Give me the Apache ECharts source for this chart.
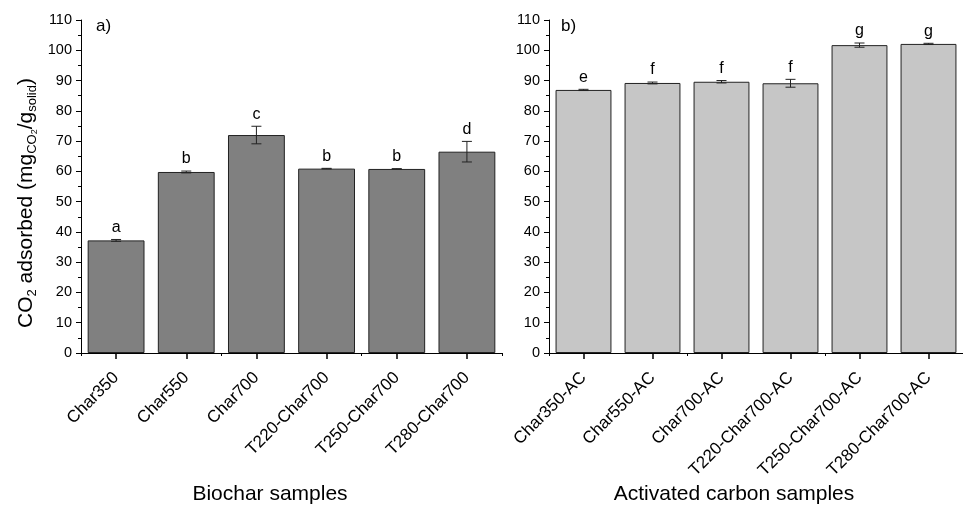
<!DOCTYPE html>
<html><head><meta charset="utf-8">
<script src="https://cdn.jsdelivr.net/npm/echarts@6/dist/echarts.min.js"></script>
<style>html,body{margin:0;padding:0;background:#fff}#c{width:963px;height:506px}</style>
</head><body><div id="c"></div>
<script>
const catsA = ['Char350','Char550','Char700','T220-Char700','T250-Char700','T280-Char700'];
const valsA = [37.2, 59.8, 72.0, 60.9, 60.8, 66.5];
const errA = [0.3, 0.3, 2.9, 0.1, 0.1, 3.4];
const lettersA = ['a','b','c','b','b','d'];
const catsB = ['Char350-AC','Char550-AC','Char700-AC','T220-Char700-AC','T250-Char700-AC','T280-Char700-AC'];
const valsB = [86.9, 89.2, 89.6, 89.1, 101.7, 102.1];
const errB = [0.2, 0.3, 0.4, 1.3, 0.7, 0.2];
const lettersB = ['e','f','f','f','g','g'];
const yMin = 0, yMax = 110, yStep = 10;

const FONT = 'Arial, "Liberation Sans", sans-serif';
const chart = echarts.init(document.getElementById('c'));

function xLabelAxis(cats, g) {
  return {type:'category', gridIndex:g, data:cats, position:'bottom', boundaryGap:true,
    axisLine:{show:true, lineStyle:{color:'#000', width:1}},
    axisTick:{show:true, alignWithLabel:true, length:6, lineStyle:{color:'#000', width:1.5}},
    axisLabel:{rotate:45, fontSize:17, color:'#000', fontFamily:FONT, margin:22, interval:0},
    splitLine:{show:false}};
}
function xMinorAxis(cats, g) {
  return {type:'category', gridIndex:g, data:cats, position:'bottom', boundaryGap:true,
    axisLine:{show:false},
    axisTick:{show:true, alignWithLabel:false, length:3, lineStyle:{color:'#000', width:1}},
    axisLabel:{show:false}, splitLine:{show:false}};
}
function yAxis(g) {
  return {type:'value', gridIndex:g, min:yMin, max:yMax, interval:yStep,
    axisLine:{show:true, lineStyle:{color:'#000', width:1}},
    axisTick:{show:true, length:5, lineStyle:{color:'#000', width:1}},
    minorTick:{show:true, splitNumber:2, length:3, lineStyle:{color:'#000', width:1}},
    axisLabel:{fontSize:14.5, color:'#000', fontFamily:FONT, margin:9},
    splitLine:{show:false}};
}
function errSeries(vals, errs, letters, xi, yi) {
  return {type:'custom', xAxisIndex:xi, yAxisIndex:yi, z:5,
    data: vals.map((v,i)=>[i, v, errs[i]]),
    renderItem: function(params, api){
      const i = api.value(0), v = api.value(1), e = api.value(2);
      const t = api.coord([i, v+e]), b = api.coord([i, v-e]);
      const h = 5;
      const ls = {stroke:'#222', lineWidth:1};
      return {type:'group', children:[
        {type:'line', shape:{x1:t[0], y1:t[1], x2:b[0], y2:b[1]}, style:ls},
        {type:'line', shape:{x1:t[0]-h, y1:t[1], x2:t[0]+h, y2:t[1]}, style:ls},
        {type:'line', shape:{x1:b[0]-h, y1:b[1], x2:b[0]+h, y2:b[1]}, style:ls},
        {type:'text', style:{text:letters[params.dataIndex], x:t[0], y:t[1]-4, align:'center', verticalAlign:'bottom', font:'16px '+FONT, fill:'#000'}}
      ]};
    }
  };
}

const yName = '{m|CO}{s|2}{m| adsorbed (mg}{s|CO}{ss|2}{m|/g}{s|solid}{m|)}';

chart.setOption({
  animation:false,
  grid:[
    {left:81, top:20, width:421, height:333, containLabel:false},
    {left:549, top:20, width:422, height:333, containLabel:false}
  ],
  xAxis:[xLabelAxis(catsA,0), xMinorAxis(catsA,0), xLabelAxis(catsB,1), xMinorAxis(catsB,1)],
  yAxis:[yAxis(0), yAxis(1)],
  series:[
    {type:'bar', xAxisIndex:0, yAxisIndex:0, data:valsA, barCategoryGap:'19%',
      itemStyle:{color:'#808080', borderColor:'#222', borderWidth:1}},
    errSeries(valsA, errA, lettersA, 0, 0),
    {type:'bar', xAxisIndex:2, yAxisIndex:1, data:valsB, barCategoryGap:'19%',
      itemStyle:{color:'#c6c6c6', borderColor:'#222', borderWidth:1}},
    errSeries(valsB, errB, lettersB, 2, 1)
  ],
  graphic:[
    {type:'text', x:96, y:26, style:{text:'a)', font:'17px '+FONT, fill:'#000', align:'left', verticalAlign:'middle'}},
    {type:'text', x:561, y:26, style:{text:'b)', font:'17px '+FONT, fill:'#000', align:'left', verticalAlign:'middle'}},
    {type:'text', x:270, y:494, style:{text:'Biochar samples', font:'21px '+FONT, fill:'#000', align:'center', verticalAlign:'middle'}},
    {type:'text', x:734, y:494, style:{text:'Activated carbon samples', font:'21px '+FONT, fill:'#000', align:'center', verticalAlign:'middle'}},
    {type:'text', x:26, y:203, rotation:Math.PI/2, style:{text:yName, align:'center', verticalAlign:'middle', fill:'#000',
      rich:{
        m:{fontSize:21, fontFamily:FONT, lineHeight:26, fill:'#000'},
        s:{fontSize:13, fontFamily:FONT, lineHeight:13, verticalAlign:'bottom', fill:'#000'},
        ss:{fontSize:9, fontFamily:FONT, lineHeight:6, verticalAlign:'bottom', fill:'#000'}
      }}}
  ]
});
</script></body></html>
